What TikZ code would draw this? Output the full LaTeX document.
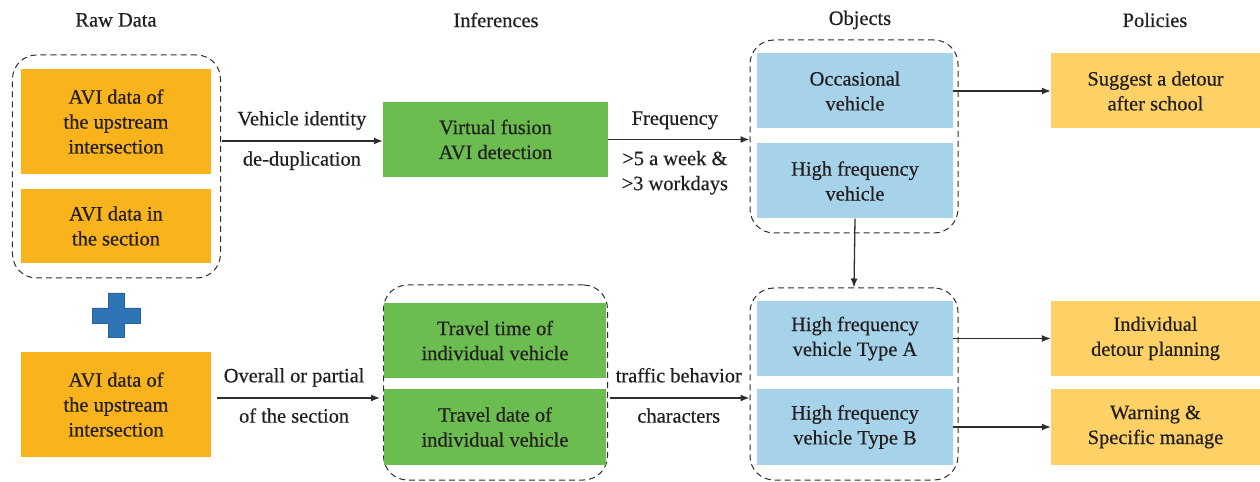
\documentclass[tikz,border=0pt]{standalone}
\usepackage{fontspec}
\setmainfont{Liberation Serif}[FakeBold=0.5]
\usetikzlibrary{arrows.meta}

\definecolor{rawfill}{HTML}{F9B31C}
\definecolor{inffill}{HTML}{6BBD4F}
\definecolor{objfill}{HTML}{A6D3EA}
\definecolor{polfill}{HTML}{FDD166}
\definecolor{plusfill}{HTML}{2E75B6}
\definecolor{plusedge}{HTML}{2A61A0}
\definecolor{ink}{HTML}{231F20}
\definecolor{wire}{HTML}{2E2E2E}

\tikzset{
  every node/.style={text=ink, font=\fontsize{20.5}{25}\selectfont},
  box/.style={rectangle, draw=none, align=center, inner sep=0pt},
  rawbox/.style={box, fill=rawfill, minimum width=190bp},
  infbox/.style={box, fill=inffill, minimum width=222bp, minimum height=75bp},
  objbox/.style={box, fill=objfill, minimum width=196bp, minimum height=75bp},
  polbox/.style={box, fill=polfill, minimum width=209bp, minimum height=75bp},
  group/.style={rectangle, draw=wire, line width=1bp, dash pattern=on 6bp off 4bp,
                rounded corners=24bp, inner sep=0pt},
  arr/.style={draw=wire, line width=1.3bp, -{Latex[length=9bp,width=7bp]}},
  lbl/.style={inner sep=0pt, text height=14bp, text depth=5bp},
  head/.style={inner sep=0pt}
}

\begin{document}
\begin{tikzpicture}[x=1bp, y=-1bp]
\useasboundingbox (0,0) rectangle (1260,482);

% column headings
\node[head] (hraw) at (116,20) {Raw Data};
\node[head] (hinf) at (496,20) {Inferences};
\node[head] (hobj) at (860,20) {Objects};
\node[head] (hpol) at (1155,20) {Policies};

% raw data
\node[group, minimum width=208bp, minimum height=223bp] (rawgrp) at (116.5,166.5) {};
\node[rawbox, minimum height=105bp] (raw1) at (116,121.5) {AVI data of\\the upstream\\intersection};
\node[rawbox, minimum height=74bp] (raw2) at (116,226) {AVI data in\\the section};
\node[rawbox, minimum height=105bp] (raw3) at (116,404.5) {AVI data of\\the upstream\\intersection};

% plus sign between the two raw data inputs
\filldraw[fill=plusfill, draw=plusedge, line width=0.8bp]
  (108,293) -- (124,293) -- (124,308) -- (140,308) -- (140,323) -- (124,323)
  -- (124,337) -- (108,337) -- (108,323) -- (92,323) -- (92,308) -- (108,308) -- cycle;

% inferences
\node[infbox, minimum width=225bp] (inf1) at (495.5,139.5) {Virtual fusion\\AVI detection};
\node[group, minimum width=224bp, minimum height=195bp] (infgrp) at (495.5,382.5) {};
\node[infbox] (inf2) at (495,340.5) {Travel time of\\individual vehicle};
\node[infbox] (inf3) at (495,427) {Travel date of\\individual vehicle};

% objects
\node[group, minimum width=208bp, minimum height=193bp] (objgrp1) at (854,136.5) {};
\node[objbox] (obj1) at (855,91) {Occasional\\vehicle};
\node[objbox] (obj2) at (855,181) {High frequency\\vehicle};
\node[group, minimum width=208bp, minimum height=192bp] (objgrp2) at (854,384) {};
\node[objbox] (objA) at (855,338.5) {High frequency\\vehicle Type A};
\node[objbox] (objB) at (855,427) {High frequency\\vehicle Type B};

% policies
\node[polbox] (pol1) at (1155.5,91) {Suggest a detour\\after school};
\node[polbox] (pol2) at (1155.5,338.5) {Individual\\detour planning};
\node[polbox] (pol3) at (1155.5,427) {Warning \&\\Specific manage};

% connectors
\draw[arr, shorten <=1bp] ([yshift=-1.5bp]rawgrp.east |- inf1.west) -- ([yshift=-1.5bp]inf1.west)
  node[lbl, midway, above=10bp] {Vehicle identity}
  node[lbl, midway, below=10bp] {de-duplication};

\draw[arr] (inf1.east) -- (inf1.east -| objgrp1.west)
  node[lbl, midway, above=9bp, xshift=-4bp] {Frequency}
  node[lbl, midway, below=11bp, xshift=-4bp] {>5 a week \&}
  node[lbl, midway, below=36bp, xshift=-4bp] {>3 workdays};

\draw[arr] (obj1.east) -- (obj1.east -| pol1.west);
\draw[arr] (obj2.south) -- (objgrp2.north);

\draw[arr, shorten <=6bp, shorten >=3bp] ([yshift=6.5bp]raw3.east) -- ([yshift=6.5bp]raw3.east -| infgrp.west)
  node[lbl, midway, above=10bp, xshift=-3bp] {Overall or partial}
  node[lbl, midway, below=10bp, xshift=-3bp] {of the section};

\draw[arr, shorten <=2bp] ([yshift=-15.5bp]infgrp.east) -- ([yshift=-15.5bp]infgrp.east -| objgrp2.west)
  node[lbl, midway, above=10bp] {traffic behavior}
  node[lbl, midway, below=10bp] {characters};

\draw[arr] (objA.east) -- (objA.east -| pol2.west);
\draw[arr] (objB.east) -- (objB.east -| pol3.west);
\end{tikzpicture}
\end{document}
